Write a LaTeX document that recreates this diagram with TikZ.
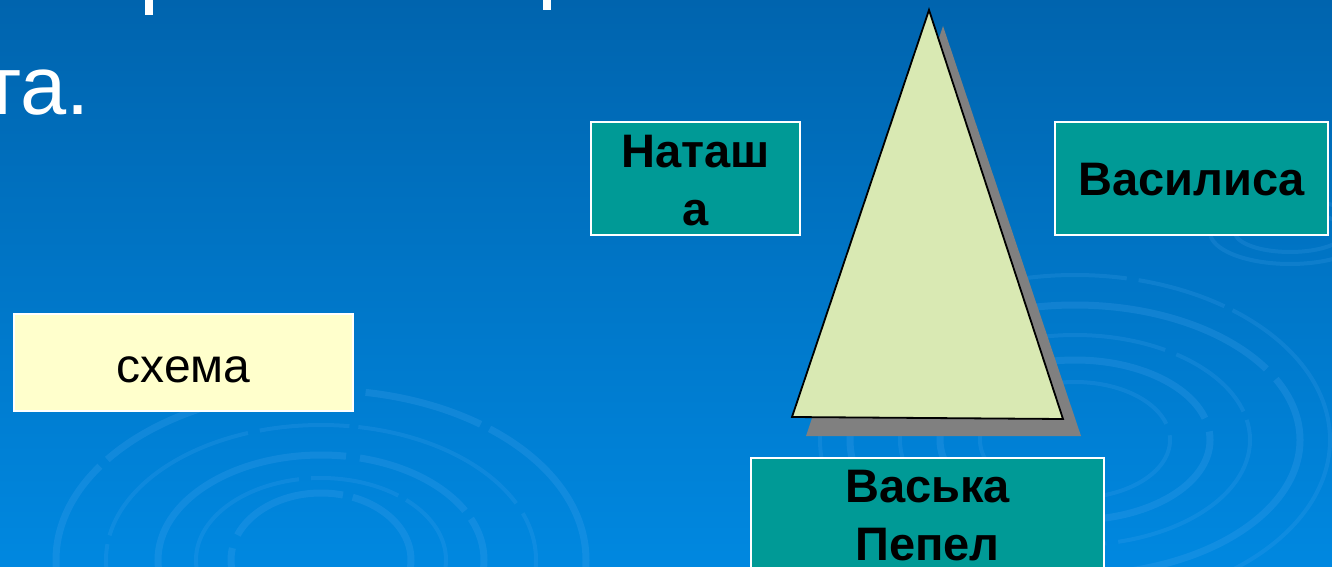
\documentclass[tikz,border=0pt]{standalone}
\usepackage{fontspec}
\setmainfont{Liberation Sans}
\definecolor{bgtop}{HTML}{0064AE}
\definecolor{bgbot}{HTML}{0088E0}
\definecolor{ring}{HTML}{4FA8F0}
\definecolor{teal}{HTML}{009A96}
\definecolor{cream}{HTML}{FFFFCC}
\definecolor{trifill}{HTML}{D9E9B3}
\definecolor{shadowgray}{HTML}{808080}
\tikzset{
  tealbox/.style={draw=white, line width=1.6pt, fill=teal, inner sep=0pt},
  creambox/.style={draw=white, line width=1.6pt, fill=cream, inner sep=0pt},
  boldtext/.style={font=\fontsize{47}{58}\selectfont\bfseries, text=black, inner sep=0pt},
  plaintext/.style={font=\fontsize{48}{58}\selectfont, text=black, inner sep=0pt},
  ringline/.style={draw=ring, line width=7pt, opacity=0.22, dash pattern=on 260pt off 14pt on 120pt off 10pt},
  ringthin/.style={draw=ring, line width=4pt, opacity=0.18, dash pattern=on 180pt off 12pt on 90pt off 9pt}
}
\begin{document}
\begin{tikzpicture}[x=1pt,y=-1pt]
\useasboundingbox (0,0) rectangle (1332,567);
\clip (0,0) rectangle (1332,567);
% background
\shade[top color=bgtop, bottom color=bgbot] (0,0) rectangle (1332,567);
% ripples, lower left
\draw[ringline] (321,560) ellipse [x radius=265, y radius=170];
\draw[ringthin] (321,560) ellipse [x radius=215, y radius=135];
\draw[ringline] (321,560) ellipse [x radius=163, y radius=105];
\draw[ringthin] (321,560) ellipse [x radius=125, y radius=82];
\draw[ringline] (321,560) ellipse [x radius=90, y radius=67];
% ripples, lower right
\draw[ringthin] (1075,440) ellipse [x radius=255, y radius=165];
\draw[ringline] (1075,440) ellipse [x radius=225, y radius=135];
\draw[ringthin] (1075,440) ellipse [x radius=175, y radius=105];
\draw[ringline] (1075,440) ellipse [x radius=135, y radius=80];
\draw[ringthin] (1075,440) ellipse [x radius=95, y radius=58];
% ripples, upper right
\draw[ringthin] (1290,232) ellipse [x radius=80, y radius=32];
\draw[ringthin] (1290,232) ellipse [x radius=55, y radius=20];
% cut-off title fragments
\fill[white] (145,0) rectangle (153,15);
\fill[white] (543,0) rectangle (551,10);
\node[font=\fontsize{83}{90}\selectfont, text=white, inner sep=0pt, anchor=base east] (ta) at (90,115) {та.};
% schema box
\node[creambox, minimum width=339, minimum height=97] (schema) at (183.5,362.5) {};
\node[plaintext, anchor=base] (schemaT) at (183.5,382) {схема};
% triangle with shadow
\fill[shadowgray] (943,26) -- (1081,436) -- (806,436) -- cycle;
\draw[fill=trifill, line width=1.8pt, line join=miter] (929,10) -- (1063,419) -- (792,417) -- cycle;
% Natasha
\node[tealbox, minimum width=209, minimum height=113] (nat) at (695.5,178.5) {};
\node[boldtext, anchor=base] (natA) at (695.5,167) {Наташ};
\node[boldtext, anchor=base] (natB) at (695.5,225) {а};
% Vasilisa
\node[tealbox, minimum width=273, minimum height=113] (vas) at (1191.5,178.5) {};
\node[boldtext, anchor=base] (vasT) at (1191.5,195) {Василиса};
% Vaska Pepel
\node[tealbox, minimum width=353, minimum height=140] (pep) at (927.5,528) {};
\node[boldtext, anchor=base] (pepA) at (927.5,502) {Васька};
\node[boldtext, anchor=base] (pepB) at (927.5,560) {Пепел};
\end{tikzpicture}
\end{document}
